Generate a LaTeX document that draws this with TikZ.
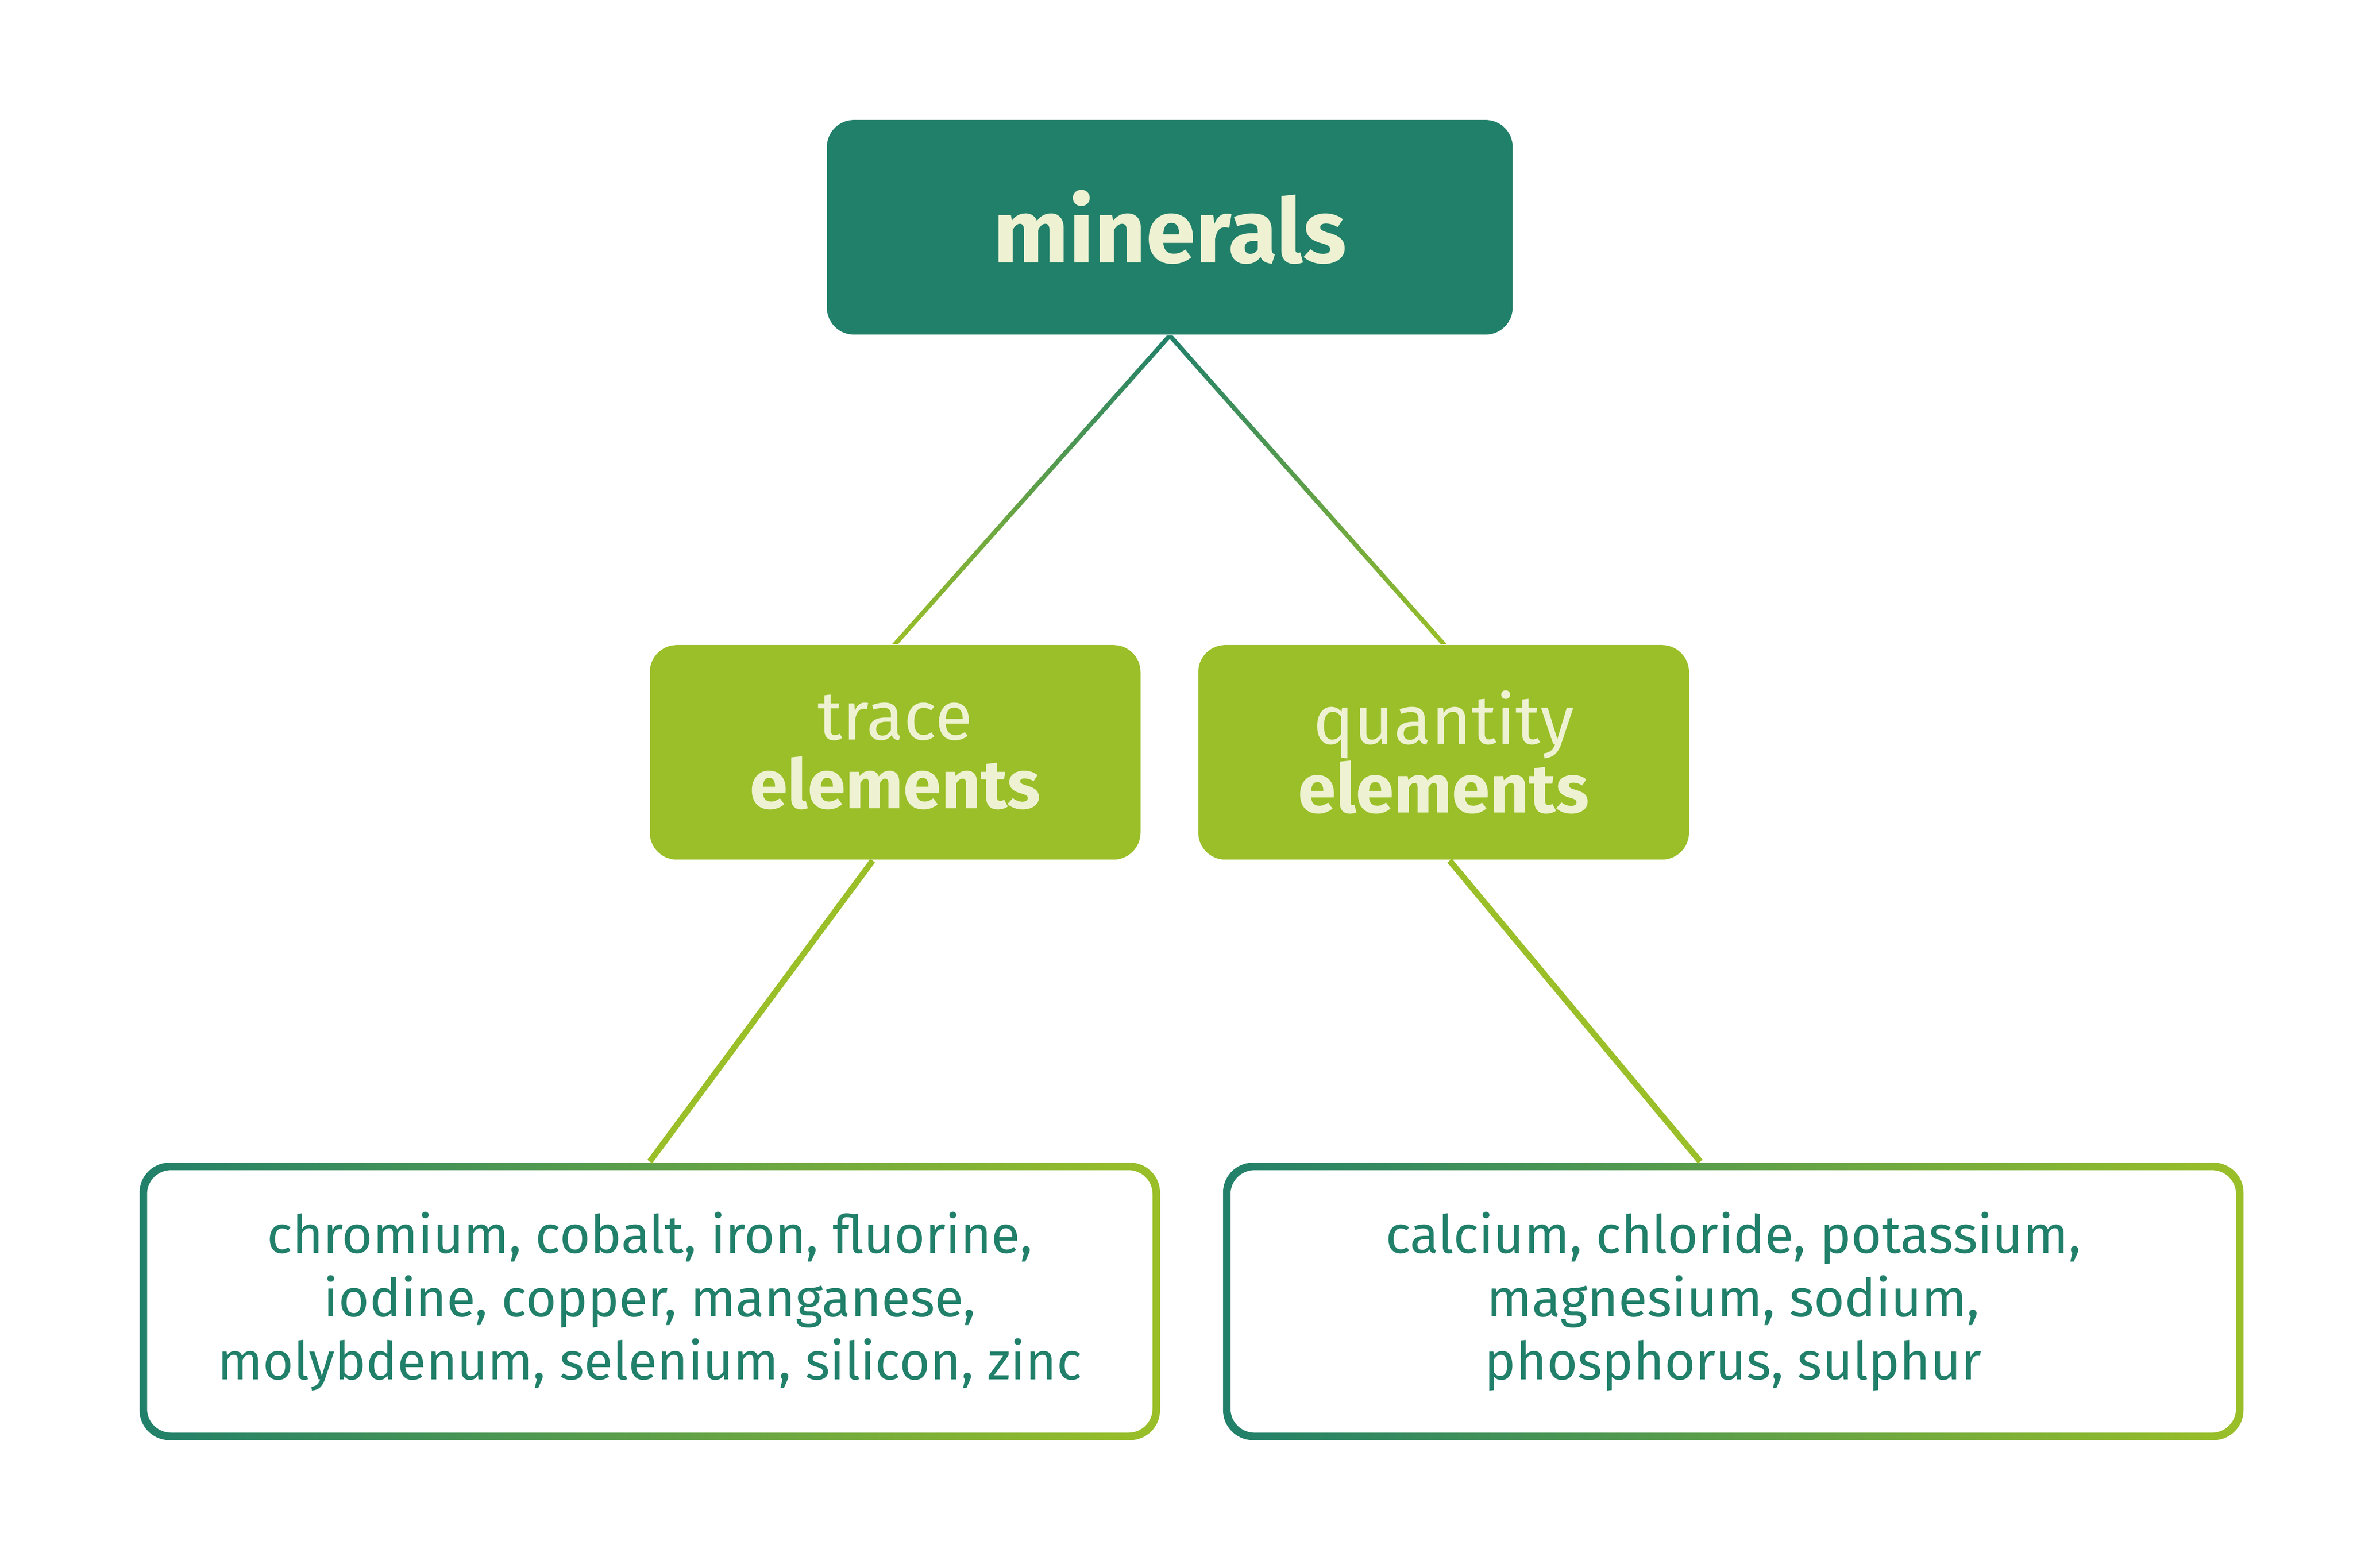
\documentclass[tikz,border=0pt]{standalone}
\usepackage{fontspec}
\setmainfont{Fira Sans}
\usetikzlibrary{calc}
\definecolor{darkgreen}{HTML}{21806A}
\definecolor{lightgreen}{HTML}{9ABF28}
\definecolor{cream}{HTML}{EEF2D2}
\begin{document}
\begin{tikzpicture}[x=1cm,y=1cm,
    box/.style={rounded corners=0.18cm,inner sep=0pt,align=center,text=cream},
    top box/.style={box,fill=darkgreen,minimum width=4.57cm,minimum height=1.43cm,font=\fontsize{17}{20}\selectfont\bfseries},
    mid box/.style={box,fill=lightgreen,minimum width=3.27cm,minimum height=1.43cm,font=\fontsize{13}{13}\selectfont},
    list box/.style={inner sep=0pt,align=center,text=darkgreen,minimum width=6.8cm,minimum height=1.85cm,font=\fontsize{10}{12}\selectfont}]
\useasboundingbox (0,0) rectangle (15.68,-10.45);

\node[top box] (minerals) at (7.795,-1.515) {minerals};
\node[mid box] (trace) at (5.965,-5.015) {trace\\\textbf{elements}};
\node[mid box] (quantity) at (9.62,-5.015) {quantity\\\textbf{elements}};

% gradient frames of the lists
\shade[left color=darkgreen,right color=lightgreen,rounded corners=0.2cm] (0.93,-7.75) rectangle (7.73,-9.60);
\fill[white,rounded corners=0.16cm] (0.98,-7.80) rectangle (7.68,-9.55);
\shade[left color=darkgreen,right color=lightgreen,rounded corners=0.2cm] (8.15,-7.75) rectangle (14.95,-9.60);
\fill[white,rounded corners=0.16cm] (8.20,-7.80) rectangle (14.90,-9.55);

\node[list box] (tracelist) at (4.33,-8.675) {chromium, cobalt, iron, fluorine,\\iodine, copper, manganese,\\molybdenum, selenium, silicon, zinc};
\node[list box] (quantitylist) at (11.55,-8.675) {calcium, chloride, potassium,\\magnesium, sodium,\\phosphorus, sulphur};

% connectors
\shade[top color=darkgreen,bottom color=lightgreen]
  ($(minerals.south)+(-0.02,0)$) -- ($(minerals.south)+(0.02,0)$) --
  ($(trace.north)+(0.02,0)$) -- ($(trace.north)+(-0.02,0)$) -- cycle;
\shade[top color=darkgreen,bottom color=lightgreen]
  ($(minerals.south)+(-0.02,0)$) -- ($(minerals.south)+(0.02,0)$) --
  ($(quantity.north)+(0.02,0)$) -- ($(quantity.north)+(-0.02,0)$) -- cycle;
\draw[lightgreen,line width=0.04cm] ($(trace.south)+(-0.15,0)$) -- (tracelist.north);
\draw[lightgreen,line width=0.04cm] ($(quantity.south)+(0.04,0)$) -- ($(quantitylist.north)+(-0.22,0)$);
\end{tikzpicture}
\end{document}
